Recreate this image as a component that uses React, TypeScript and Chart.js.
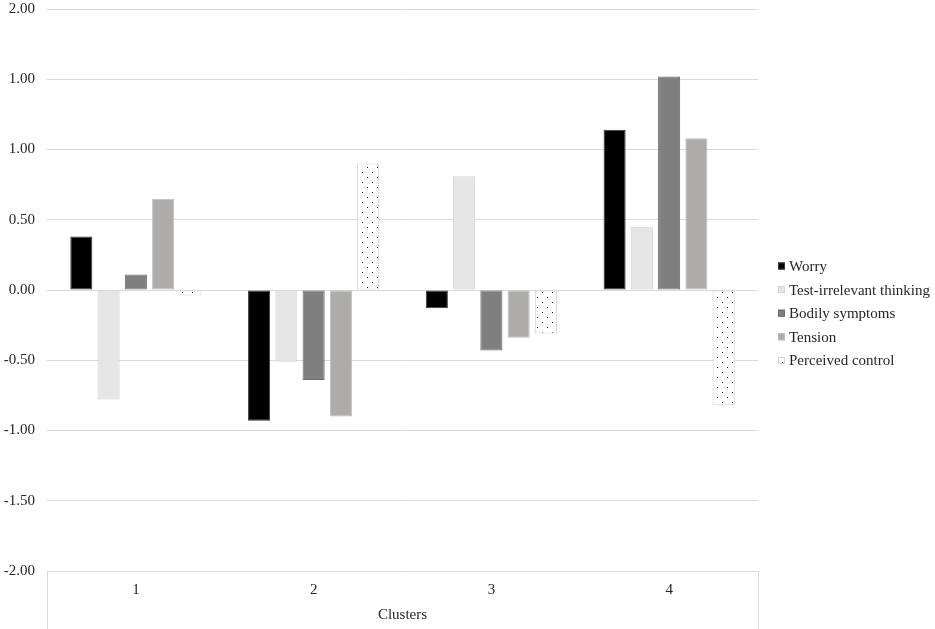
import React, { useEffect, useRef } from "react";
import { Chart, registerables } from "chart.js";

Chart.register(...registerables);

const clusters = ["1", "2", "3", "4"];
const seriesNames = ["Worry", "Test-irrelevant thinking", "Bodily symptoms", "Tension", "Perceived control"];
const worry = [0.38, -0.93, -0.13, 1.14];
const testIrrelevant = [-0.78, -0.51, 0.81, 0.45];
const bodilySymptoms = [0.11, -0.64, -0.43, 1.52];
const tension = [0.65, -0.9, -0.34, 1.08];
const perceivedControl = [-0.04, 0.9, -0.31, -0.82];
const yTickLabels = ["2.00", "1.00", "1.00", "0.50", "0.00", "-0.50", "-1.00", "-1.50", "-2.00"];

const FONT = "'Liberation Serif', 'Times New Roman', serif";
const TEXT = "#262626";

function makeDotPattern(): CanvasPattern | string {
  const c = document.createElement("canvas");
  c.width = 10;
  c.height = 10;
  const g = c.getContext("2d");
  if (!g) return "#ffffff";
  g.fillStyle = "#ffffff";
  g.fillRect(0, 0, 10, 10);
  g.fillStyle = "#111111";
  g.fillRect(2, 2, 1, 1);
  g.fillRect(7, 7, 1, 1);
  const p = g.createPattern(c, "repeat");
  return p || "#ffffff";
}

const legendPlugin = {
  id: "sideLegend",
  afterDraw(chart: any) {
    const ctx = chart.ctx;
    ctx.save();
    ctx.font = `15px ${FONT}`;
    ctx.textBaseline = "middle";
    ctx.textAlign = "left";
    chart.data.datasets.forEach((ds: any, i: number) => {
      const y = 266 + i * 23.6;
      const bx = 778;
      ctx.fillStyle = ds.backgroundColor;
      ctx.fillRect(bx, y - 3.5, 7, 7);
      ctx.strokeStyle = ds.borderColor;
      ctx.lineWidth = 1;
      ctx.strokeRect(bx + 0.5, y - 3, 6, 6);
      ctx.fillStyle = TEXT;
      ctx.fillText(ds.label, 789, y + 1);
    });
    ctx.restore();
  },
};

export default function App() {
  const ref = useRef<HTMLCanvasElement | null>(null);

  useEffect(() => {
    document.body.style.margin = "0";
    if (!ref.current) return;
    const dots = makeDotPattern();
    const values = [worry, testIrrelevant, bodilySymptoms, tension, perceivedControl];
    const fills: any[] = ["#000000", "#e7e6e6", "#7f7f7f", "#aeabab", dots];
    const borders = ["#3a3a3a", "#d4d4d4", "#6a6a6a", "#bdbdbd", "#d4d4d4"];
    const chart = new Chart(ref.current, {
      type: "bar",
      data: {
        labels: clusters,
        datasets: values.map((v, i) => ({
          label: seriesNames[i],
          data: v,
          backgroundColor: fills[i],
          borderColor: borders[i],
          borderWidth: 1,
          borderSkipped: false,
          categoryPercentage: 0.767,
          barPercentage: 0.81,
        })),
      },
      options: {
        animation: false,
        responsive: false,
        devicePixelRatio: 1,
        layout: { padding: { top: 9, right: 177, left: 0, bottom: 0 } },
        plugins: {
          legend: { display: false },
          tooltip: { enabled: false },
        },
        scales: {
          x: {
            afterFit: (s: any) => {
              s.height = 58;
              s.paddingLeft = 0;
              s.paddingRight = 0;
            },
            border: { display: false },
            grid: {
              drawOnChartArea: false,
              drawTicks: true,
              tickLength: 58,
              color: (c: any) => (c.index === 0 || c.index === undefined ? "#d9d9d9" : "rgba(0,0,0,0)"),
            },
            ticks: {
              padding: -48,
              color: TEXT,
              font: { family: FONT, size: 15 },
            },
            title: {
              display: true,
              text: "Clusters",
              color: TEXT,
              font: { family: FONT, size: 15 },
              padding: { top: 0, bottom: 5 },
            },
          },
          y: {
            min: -2,
            max: 2,
            afterFit: (s: any) => {
              s.width = 47;
              s.paddingTop = 0;
              s.paddingBottom = 0;
            },
            border: { display: false },
            grid: { color: "#d9d9d9", drawTicks: false },
            ticks: {
              stepSize: 0.5,
              padding: 12,
              color: TEXT,
              font: { family: FONT, size: 15 },
              callback: (val: any) => {
                const idx = Math.round((2 - Number(val)) / 0.5);
                return yTickLabels[idx] ?? "";
              },
            },
          },
        },
      },
      plugins: [legendPlugin],
    });
    return () => chart.destroy();
  }, []);

  return (
    <div style={{ width: 935, height: 629 }}>
      <canvas ref={ref} width={935} height={629} style={{ display: "block" }} />
    </div>
  );
}
